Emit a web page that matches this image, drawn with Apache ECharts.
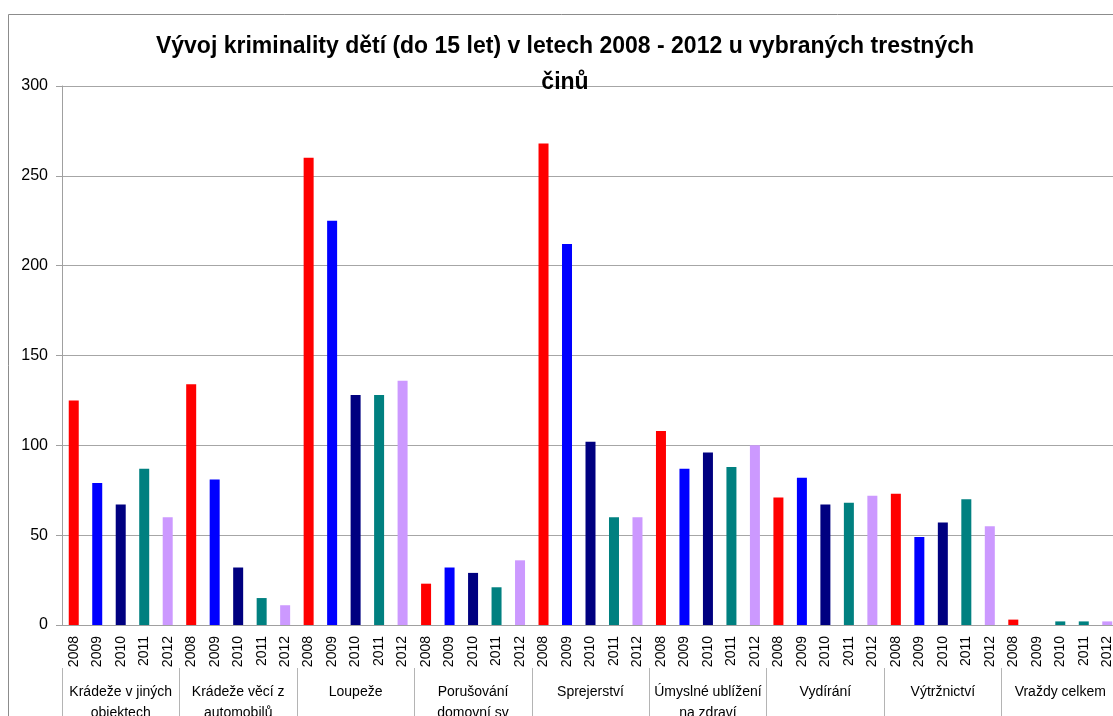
<!DOCTYPE html>
<html>
<head>
<meta charset="utf-8">
<script src="https://cdn.jsdelivr.net/npm/echarts@6/dist/echarts.min.js"></script>
<style>
  html, body { margin: 0; padding: 0; background: #fff; }
  #chart { width: 1113px; height: 716px; }
</style>
</head>
<body>
<div id="chart"></div>
<script>
// Vývoj kriminality dětí (do 15 let) 2008–2012 – sloupce podle roku v každé skupině

const years = ['2008', '2009', '2010', '2011', '2012'];
const groups = [
  'Krádeže v jiných\nobjektech',
  'Krádeže věcí z\nautomobilů',
  'Loupeže',
  'Porušování\ndomovní sv',
  'Sprejerství',
  'Úmyslné ublížení\nna zdraví',
  'Vydírání',
  'Výtržnictví',
  'Vraždy celkem'
];

// hodnoty po skupinách, pořadí let 2008..2012
const kradezeObjekty = [125, 79, 67, 87, 60];
const kradezeAuta    = [134, 81, 32, 15, 11];
const loupeze        = [260, 225, 128, 128, 136];
const domovniSv      = [23, 32, 29, 21, 36];
const sprejerstvi    = [268, 212, 102, 60, 60];
const ublizeni       = [108, 87, 96, 88, 100];
const vydirani       = [71, 82, 67, 68, 72];
const vytrznictvi    = [73, 49, 57, 70, 55];
const vrazdy         = [3, 0, 2, 2, 2];

const yearColors = ['#FF0000', '#0000FF', '#000080', '#008080', '#CC99FF'];

const allValues = [
  kradezeObjekty, kradezeAuta, loupeze, domovniSv, sprejerstvi,
  ublizeni, vydirani, vytrznictvi, vrazdy
].flat();
const yearLabels = groups.flatMap(() => years);

const chart = echarts.init(document.getElementById('chart'));
const font = '"Liberation Sans", Arial, sans-serif';

chart.setOption({
  animation: false,
  textStyle: { fontFamily: font },
  title: {
    text: 'Vývoj kriminality dětí (do 15 let) v letech 2008 - 2012 u vybraných trestných\nčinů',
    left: 560,
    textAlign: 'center',
    top: 24,
    textStyle: { fontSize: 23, fontWeight: 'bold', color: '#000', lineHeight: 36, fontFamily: font }
  },
  graphic: [{
    type: 'rect',
    silent: true,
    shape: { x: 8.5, y: 14.5, width: 1200, height: 800 },
    style: { fill: 'none', stroke: '#8c8c8c', lineWidth: 1 }
  }],
  grid: { left: 62, top: 86, width: 1057, height: 539, outerBoundsMode: 'none', containLabel: false },
  xAxis: [
    {
      type: 'category',
      data: yearLabels,
      position: 'bottom',
      axisLine: { lineStyle: { color: '#a0a0a0' } },
      axisTick: { length: 43, interval: 0, lineStyle: { color: '#b4b4b4' } },
      axisLabel: { rotate: 90, interval: 0, margin: 11, fontSize: 14, color: '#000' }
    },
    {
      type: 'category',
      data: groups,
      position: 'bottom',
      offset: 43,
      axisLine: { show: false },
      axisTick: { show: true, length: 60, interval: 0, lineStyle: { color: '#b4b4b4' } },
      axisLabel: { interval: 0, margin: 14, fontSize: 14, lineHeight: 21, color: '#000' }
    }
  ],
  yAxis: {
    type: 'value',
    min: 0,
    max: 300,
    interval: 50,
    axisLine: { show: true, lineStyle: { color: '#a0a0a0' } },
    axisTick: { show: true, length: 6, lineStyle: { color: '#a0a0a0' } },
    axisLabel: { fontSize: 16, color: '#000', margin: 14 },
    splitLine: { lineStyle: { color: '#a6a6a6' } }
  },
  series: [{
    type: 'bar',
    xAxisIndex: 0,
    data: allValues,
    barWidth: 10,
    itemStyle: {
      color: p => {
        // poslední skupina: rok 2010 je v originále zelenomodrý
        if (p.dataIndex === 42) return yearColors[3];
        return yearColors[p.dataIndex % 5];
      }
    }
  }]
});
</script>
</body>
</html>
